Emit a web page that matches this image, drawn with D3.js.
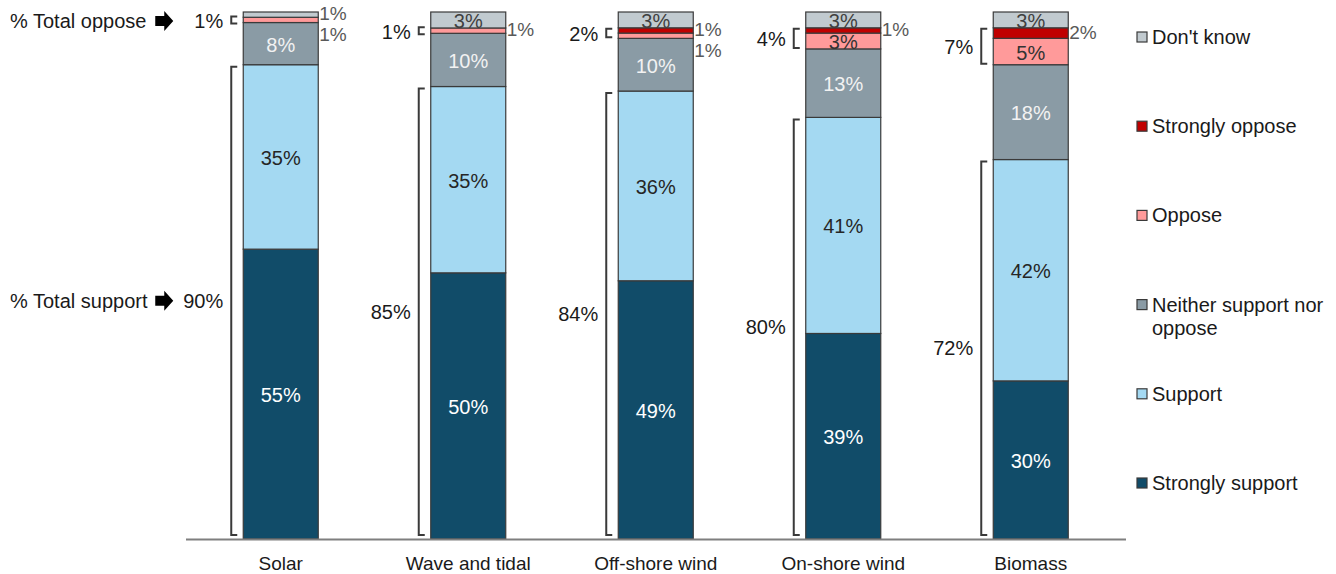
<!DOCTYPE html>
<html lang="en">

<head>
    <meta charset="UTF-8">
    <meta name="viewport" content="width=device-width, initial-scale=1.0">
    <title>Support for renewable energy sources</title>
    <style>
        html,
        body {
            background-color: white;
            margin: 0;
        }

        svg {
            display: block;
            background-color: white;
        }

        text {
            font-family: "Liberation Sans", Arial, sans-serif;
            font-size: 20px;
            fill: #1a1a1a;
        }
    </style>
</head>

<body>
    <main></main>
    <script src="https://d3js.org/d3.v7.min.js"></script>
    <script>
        // - - - - - - - - - -
        // Data
        // - - - - - - - - - -
        const categories = ['Solar', 'Wave and tidal', 'Off-shore wind', 'On-shore wind', 'Biomass'];
        const stronglySupport = [55, 50, 49, 39, 30];
        const support = [35, 35, 36, 41, 42];
        const neither = [8, 10, 10, 13, 18];
        const oppose = [1, 1, 1, 3, 5];
        const stronglyOppose = [0, 0, 1, 1, 2];
        const dontKnow = [1, 3, 3, 3, 3];
        const totalSupport = [90, 85, 84, 80, 72];
        const totalOppose = [1, 1, 2, 4, 7];
        const seriesNames = ['Strongly support', 'Support', 'Neither support nor oppose', 'Oppose', 'Strongly oppose', "Don't know"];

        !(function () {
            'use strict';

            let
                svg,
                canvas = {
                    width: 1336,
                    height: 574
                },
                x, y, stacked,
                seriesValues = [stronglySupport, support, neither, oppose, stronglyOppose, dontKnow],
                fills = ['#114c69', '#a4d9f2', '#8a9ba5', '#ff9a9a', '#c00000', '#c1cacf'],
                labelColors = ['#ffffff', '#262626', '#f2f2f2', '#333333', '#ffffff', '#404040'],
                pct = function (v) { return v + '%'; };

            // - - - - - - - - - -
            // Setters
            // - - - - - - - - - -

            /** Set the svg container */
            function setSvg() {
                svg = d3.select('main')
                    .append('svg')
                    .attr('width', canvas.width)
                    .attr('height', canvas.height);
            }

            /** Scales and stack layout */
            function setScales() {
                x = d3.scaleBand()
                    .domain(categories)
                    .range([187, 1124.5])
                    .paddingInner(0.6)
                    .paddingOuter(0.3);

                y = d3.scaleLinear()
                    .domain([0, 1])
                    .range([539, 12]);

                let rows = categories.map(function (c, i) {
                    let row = { category: c, index: i };
                    seriesNames.forEach(function (s, k) {
                        row[s] = seriesValues[k][i];
                    });
                    return row;
                });

                // every bar is drawn to full height (Wave and tidal adds up to 99)
                stacked = d3.stack()
                    .keys(seriesNames)
                    .offset(d3.stackOffsetExpand)(rows);
            }

            // - - - - - - - - - -
            // Drawing
            // - - - - - - - - - -

            function drawBars() {
                let layer = svg.append('g')
                    .selectAll('g')
                    .data(stacked)
                    .join('g')
                    .attr('fill', function (d, k) { return fills[k]; });

                layer.selectAll('rect')
                    .data(function (d) { return d; })
                    .join('rect')
                    .filter(function (d) { return d[1] - d[0] > 0; })
                    .attr('x', function (d) { return x(d.data.category); })
                    .attr('y', function (d) { return y(d[1]); })
                    .attr('width', x.bandwidth())
                    .attr('height', function (d) { return y(d[0]) - y(d[1]); })
                    .attr('stroke', '#3a3a3a')
                    .attr('stroke-width', 1.2);

                // baseline
                svg.append('line')
                    .attr('x1', 186).attr('x2', 1126)
                    .attr('y1', y(0) + 0.5).attr('y2', y(0) + 0.5)
                    .attr('stroke', '#7f7f7f')
                    .attr('stroke-width', 2);

                // category labels
                svg.append('g')
                    .selectAll('text')
                    .data(categories)
                    .join('text')
                    .attr('x', function (d) { return x(d) + x.bandwidth() / 2; })
                    .attr('y', 563)
                    .attr('text-anchor', 'middle')
                    .attr('dominant-baseline', 'central')
                    .style('font-size', '19px')
                    .text(function (d) { return d; });
            }

            function drawSegmentLabels() {
                let g = svg.append('g');

                categories.forEach(function (c, i) {
                    let right = x(c) + x.bandwidth(),
                        lastY = -Infinity;

                    // walk top → bottom so small outside labels can be pushed apart
                    for (let k = stacked.length - 1; k >= 0; k--) {
                        let seg = stacked[k][i],
                            v = seriesValues[k][i],
                            cy = (y(seg[0]) + y(seg[1])) / 2;

                        if (v <= 0) continue;

                        if (v >= 3) {
                            g.append('text')
                                .attr('x', x(c) + x.bandwidth() / 2)
                                .attr('y', cy + 1)
                                .attr('text-anchor', 'middle')
                                .attr('dominant-baseline', 'central')
                                .style('fill', labelColors[k])
                                .text(pct(v));
                        } else {
                            let ty = Math.max(cy - 1, lastY + 21);
                            lastY = ty;
                            g.append('text')
                                .attr('x', right + 1)
                                .attr('y', ty)
                                .attr('dominant-baseline', 'central')
                                .style('fill', '#595959')
                                .style('font-size', '19px')
                                .text(pct(v));
                        }
                    }
                });
            }

            function bracket(g, bx, y0, y1) {
                g.append('path')
                    .attr('d', 'M' + (bx + 6) + ',' + y0 + 'H' + bx + 'V' + y1 + 'H' + (bx + 6))
                    .attr('fill', 'none')
                    .attr('stroke', '#3a3a3a')
                    .attr('stroke-width', 2);
            }

            function drawBrackets() {
                let g = svg.append('g');

                categories.forEach(function (c, i) {
                    let left = x(c),
                        bx = left - 12,
                        // support = Strongly support + Support
                        sTop = y(stacked[1][i][1]) + 2,
                        sBot = y(0) - 4,
                        // oppose = Oppose + Strongly oppose
                        oTop = y(stacked[4][i][1]),
                        oBot = y(stacked[3][i][0]),
                        oMid = (oTop + oBot) / 2,
                        oHalf = Math.max(3.5, (oBot - oTop) / 2 - 1);

                    bracket(g, bx, sTop, sBot);
                    bracket(g, bx, oMid - oHalf, oMid + oHalf);

                    g.append('text')
                        .attr('x', left - 20)
                        .attr('y', (sTop + sBot) / 2)
                        .attr('text-anchor', 'end')
                        .attr('dominant-baseline', 'central')
                        .text(pct(totalSupport[i]));

                    g.append('text')
                        .attr('x', left - 20)
                        .attr('y', oMid + 1)
                        .attr('text-anchor', 'end')
                        .attr('dominant-baseline', 'central')
                        .text(pct(totalOppose[i]));
                });
            }

            function arrow(g, tip, cy) {
                g.append('path')
                    .attr('d', 'M' + (tip - 18) + ',' + (cy - 5) +
                        'H' + (tip - 9) + 'V' + (cy - 10) +
                        'L' + tip + ',' + cy +
                        'L' + (tip - 9) + ',' + (cy + 10) +
                        'V' + (cy + 5) + 'H' + (tip - 18) + 'Z')
                    .attr('fill', '#000');
            }

            function drawAnnotations() {
                let g = svg.append('g'),
                    tip = x(categories[0]) - 70,
                    i = 0,
                    sY = (y(stacked[1][i][1]) + 2 + y(0) - 4) / 2,
                    oY = (y(stacked[4][i][1]) + y(stacked[3][i][0])) / 2 + 1;

                g.append('text')
                    .attr('x', 10).attr('y', oY)
                    .attr('dominant-baseline', 'central')
                    .text('% Total oppose');
                arrow(g, tip, oY);

                g.append('text')
                    .attr('x', 10).attr('y', sY)
                    .attr('dominant-baseline', 'central')
                    .text('% Total support');
                arrow(g, tip, sY);
            }

            function drawLegend() {
                let order = seriesNames.slice().reverse(),
                    ly = d3.scalePoint().domain(order).range([37, 483]),
                    item = svg.append('g')
                        .selectAll('g')
                        .data(order)
                        .join('g')
                        .attr('transform', function (d) { return 'translate(1137,' + ly(d) + ')'; });

                item.append('rect')
                    .attr('x', 0).attr('y', -5)
                    .attr('width', 10).attr('height', 10)
                    .attr('fill', function (d) { return fills[seriesNames.indexOf(d)]; })
                    .attr('stroke', '#3a3a3a')
                    .attr('stroke-width', 1.2);

                item.append('text')
                    .attr('x', 15)
                    .attr('dominant-baseline', 'central')
                    .selectAll('tspan')
                    .data(function (d) {
                        return d === 'Neither support nor oppose' ? ['Neither support nor', 'oppose'] : [d];
                    })
                    .join('tspan')
                    .attr('x', 15)
                    .attr('dy', function (d, j) { return j === 0 ? 0 : 23; })
                    .text(function (d) { return d; });
            }

            function main() {
                setSvg();
                setScales();
                drawBars();
                drawSegmentLabels();
                drawBrackets();
                drawAnnotations();
                drawLegend();
            }

            window.addEventListener('load', main);
        }());
    </script>
</body>

</html>
